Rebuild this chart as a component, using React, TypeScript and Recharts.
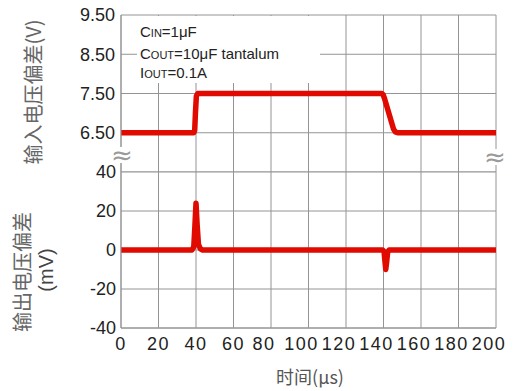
import React from "react";
import { LineChart, Line, XAxis, YAxis, CartesianGrid } from "recharts";

// time axis (µs)
const X_TICKS = [0, 20, 40, 60, 80, 100, 120, 140, 160, 180, 200];

// input voltage step (V)
const IN_TIME = [0, 38.8, 39.3, 39.7, 40.2, 41, 80, 139, 139.8, 140.5, 145.3, 146.3, 147.5, 200];
const IN_VOLT = [6.5, 6.5, 6.56, 7.0, 7.44, 7.5, 7.5, 7.5, 7.47, 7.38, 6.6, 6.52, 6.5, 6.5];
const IN_TICKS = [6.5, 7.5, 8.5, 9.5];

// output deviation (mV)
const OUT_TIME = [0, 37.8, 38.8, 39.4, 40, 40.6, 41.3, 42.3, 43.5, 139.5, 140.3, 140.7, 141.2, 141.7, 142.2, 143, 200];
const OUT_MV = [0, 0, 1.5, 12, 24, 13, 3, 0.6, 0, 0, -0.8, -5, -10, -6, -1.2, 0, 0];
const OUT_TICKS = [-40, -20, 0, 20, 40];

const RED = "#e00a00";
const GRID = "#949494";
const TXT = "#222";
const FONT = "'Liberation Sans', Arial, sans-serif";
const CJK = "'Noto Sans CJK SC', sans-serif";

const inData = IN_TIME.map((t, i) => ({ t, v: IN_VOLT[i] }));
const outData = OUT_TIME.map((t, i) => ({ t, v: OUT_MV[i] }));

const tickStyle = { fill: TXT, fontSize: 18, fontFamily: FONT };

function TimeTick(props: any) {
  const { x, y, payload } = props;
  // labels from 80 on are squeezed left in the original
  const dx = payload.value >= 80 ? -7 : 0;
  return (
    <text
      x={x + dx}
      y={y}
      dy="0.71em"
      textAnchor="middle"
      fill={TXT}
      fontSize={18}
      fontFamily={FONT}
      letterSpacing={1.5}
    >
      {payload.value}
    </text>
  );
}

function Rotated({ x, y, size, children, color = "#666", family = CJK }: any) {
  return (
    <div
      style={{
        position: "absolute",
        left: x,
        top: y,
        transform: "translate(-50%, -50%) rotate(-90deg)",
        whiteSpace: "nowrap",
        fontSize: size,
        fontFamily: family,
        color,
        lineHeight: 1,
      }}
    >
      {children}
    </div>
  );
}

function BreakMark({ x, y }: { x: number; y: number }) {
  return (
    <div
      style={{
        position: "absolute",
        left: x,
        top: y,
        transform: "translate(-50%, -50%)",
        fontSize: 26,
        color: "#9a9a9a",
        fontFamily: "'DejaVu Sans', sans-serif",
        background: "#fff",
        lineHeight: "16px",
      }}
    >
      ≈
    </div>
  );
}

const sub = { fontSize: 11 };

export default function App() {
  return (
    <div
      style={{
        position: "absolute",
        left: 0,
        top: 0,
        width: 514,
        height: 391,
        background: "#fff",
        overflow: "hidden",
      }}
    >
      <div style={{ position: "absolute", left: 0, top: 0 }}>
        <LineChart
          width={514}
          height={172}
          data={inData}
          margin={{ top: 15, right: 18, bottom: 0, left: 0 }}
        >
          <CartesianGrid stroke={GRID} strokeWidth={1} />
          <XAxis type="number" dataKey="t" domain={[0, 200]} ticks={X_TICKS} hide />
          <YAxis
            type="number"
            domain={[5.5, 9.5]}
            ticks={IN_TICKS}
            width={121}
            tickLine={false}
            tickSize={0}
            tickMargin={6}
            axisLine={{ stroke: GRID }}
            tick={tickStyle}
            tickFormatter={(v: number) => v.toFixed(2)}
          />
          <Line
            type="linear"
            dataKey="v"
            stroke={RED}
            strokeWidth={5.5}
            strokeLinejoin="round"
            dot={false}
            isAnimationActive={false}
          />
        </LineChart>
      </div>

      <div style={{ position: "absolute", left: 0, top: 157 }}>
        <LineChart
          width={514}
          height={201}
          data={outData}
          margin={{ top: 15, right: 18, bottom: 0, left: 0 }}
        >
          <CartesianGrid stroke={GRID} strokeWidth={1} />
          <XAxis
            type="number"
            dataKey="t"
            domain={[0, 200]}
            ticks={X_TICKS}
            height={30}
            tickLine={false}
            tickSize={0}
            tickMargin={9}
            axisLine={{ stroke: GRID }}
            tick={<TimeTick />}
          />
          <YAxis
            type="number"
            domain={[-40, 40]}
            ticks={OUT_TICKS}
            width={121}
            tickLine={false}
            tickSize={0}
            tickMargin={5}
            axisLine={{ stroke: GRID }}
            tick={tickStyle}
          />
          <Line
            type="linear"
            dataKey="v"
            stroke={RED}
            strokeWidth={5.5}
            strokeLinejoin="round"
            dot={false}
            isAnimationActive={false}
          />
        </LineChart>
      </div>

      {/* condition box */}
      <div
        style={{
          position: "absolute",
          left: 137,
          top: 16,
          width: 183,
          height: 67,
          background: "#fff",
          fontFamily: FONT,
          fontSize: 15,
          color: TXT,
          lineHeight: 1,
        }}
      >
        <div style={{ position: "absolute", left: 3, top: 8 }}>
          C<span style={sub}>IN</span>=1μF
        </div>
        <div style={{ position: "absolute", left: 3, top: 30, whiteSpace: "nowrap" }}>
          C<span style={sub}>OUT</span>=10μF tantalum
        </div>
        <div style={{ position: "absolute", left: 3, top: 49 }}>
          I<span style={sub}>OUT</span>=0.1A
        </div>
      </div>

      <BreakMark x={122} y={155} />
      <BreakMark x={495} y={157} />

      <Rotated x={33} y={92} size={20}>
        输入电压偏差(V)
      </Rotated>
      <Rotated x={22} y={272} size={20}>
        输出电压偏差
      </Rotated>
      <Rotated x={46} y={270} size={20} family={FONT} color="#444">
        (mV)
      </Rotated>

      <div
        style={{
          position: "absolute",
          left: 310,
          top: 376,
          transform: "translate(-50%, -50%)",
          fontFamily: CJK,
          fontSize: 18,
          color: "#555",
          whiteSpace: "nowrap",
          lineHeight: 1,
        }}
      >
        时间(μs)
      </div>
    </div>
  );
}
